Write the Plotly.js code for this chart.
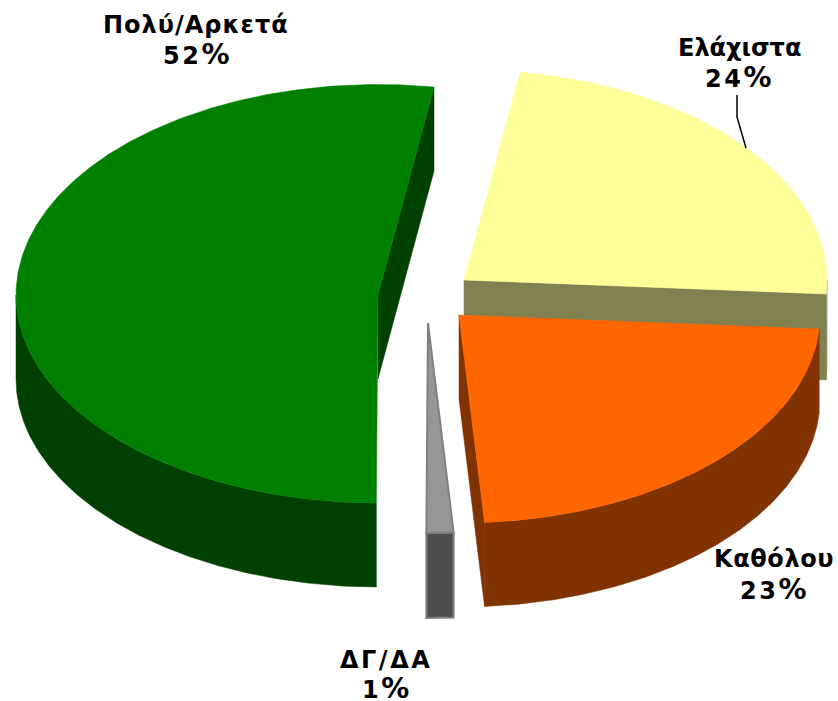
<!DOCTYPE html>
<html><head><meta charset="utf-8">
<script src="https://cdn.plot.ly/plotly-3.0.1.min.js"></script>
<style>html,body{margin:0;padding:0;background:#fff}#c{width:838px;height:701px}</style>
</head><body><div id="c"></div>
<script>
// Data (clockwise from the first slice)
const categories = ['Ελάχιστα', 'Καθόλου', 'ΔΓ/ΔΑ', 'Πολύ/Αρκετά'];
const values = [23.6, 22.8, 1.2, 52.4];
const percentDigits = ['24', '23', '1', '52'];

// Styling and view geometry
const topColors = ['#FFFF99', '#FF6600', '#969696', '#008000'];
const sideColors = ['#808050', '#803300', '#4D4D4D', '#004000'];
const edgeColors = [null, null, '#808080', null];
const centers = [[464, 280], [459, 315], [428, 323], [378, 295]];
const radiiX = [363, 361, 362, 362];
const radiiBack = [210.5, 208, 208, 210.5];
const radiiFront = [208, 208, 210, 208];
const depth = [86, 84, 85, 84];
const namePos = [[739, 48], [774, 559], [386, 660], [196, 25]];
const pctPos = [[739, 77], [774, 589], [387, 688], [197, 54]];
const nameSpacing = [0, 0.6, 2.5, 1];
const startAngle = 8.9;
const drawOrder = [0, 1, 3, 2];

const total = values.reduce((a, b) => a + b, 0);
let acc = startAngle;
const spans = values.map(v => { const s = [acc, acc + v / total * 360]; acc = s[1]; return s; });

const pt = (i, deg) => {
  const r = deg * Math.PI / 180, cs = Math.cos(r);
  return [centers[i][0] + radiiX[i] * Math.sin(r),
          centers[i][1] - (cs > 0 ? radiiBack[i] : radiiFront[i]) * cs];
};
const arc = (i, a0, a1) => {
  const n = Math.max(2, Math.ceil(Math.abs(a1 - a0) / 0.5)), out = [];
  for (let k = 0; k <= n; k++) out.push(pt(i, a0 + (a1 - a0) * k / n));
  return out;
};
const poly = (pts, fill, line) => ({
  type: 'scatter', mode: 'lines', x: pts.map(p => p[0]), y: pts.map(p => p[1]),
  fill: 'toself', fillcolor: fill, hoverinfo: 'skip', showlegend: false,
  line: line ? {color: line, width: 2} : {color: fill, width: 0.5}
});
const drop = (pts, d) => pts.map(p => [p[0], p[1] + d]);

const traces = [];
drawOrder.forEach(i => {
  const [a0, a1] = spans[i], c = centers[i], d = depth[i];
  // flat cut face on the clockwise end of the slice (the gray one shows none)
  if (i !== 2) {
    const e = pt(i, a1);
    traces.push(poly([c, e, [e[0], e[1] + d], [c[0], c[1] + d], c], sideColors[i], edgeColors[i]));
  }
  // outer wall: only the front half of the rim
  const lo = Math.max(a0, 90), hi = Math.min(a1, 270);
  if (hi > lo) {
    const rim = arc(i, lo, hi);
    traces.push(poly(rim.concat(drop(rim, d).reverse(), [rim[0]]), sideColors[i], edgeColors[i]));
  }
  // top face
  traces.push(poly([c].concat(arc(i, a0, a1), [c]), topColors[i], edgeColors[i]));
});

// Leader line for the yellow slice
traces.push({
  type: 'scatter', mode: 'lines', x: [737, 737, 746], y: [95, 117, 148],
  line: {color: '#000', width: 1.5}, hoverinfo: 'skip', showlegend: false
});

const labelFont = {family: '"DejaVu Sans", Verdana, sans-serif', size: 24, color: '#000', weight: 700};
const annotations = [];
categories.forEach((c, i) => {
  annotations.push({
    x: namePos[i][0], y: namePos[i][1], xref: 'x', yref: 'y', showarrow: false,
    text: '<span style="letter-spacing:' + nameSpacing[i] + 'px">' + c + '</span>',
    xanchor: 'center', yanchor: 'middle', font: labelFont
  });
  annotations.push({
    x: pctPos[i][0], y: pctPos[i][1], xref: 'x', yref: 'y', showarrow: false,
    text: '<span style="letter-spacing:2.5px">' + percentDigits[i] +
          '<span style="font-size:28px">%</span></span>',
    xanchor: 'center', yanchor: 'middle', font: labelFont
  });
});

Plotly.newPlot('c', traces, {
  width: 838, height: 701, margin: {l: 0, r: 0, t: 0, b: 0},
  paper_bgcolor: '#fff', plot_bgcolor: '#fff', showlegend: false,
  xaxis: {range: [0, 838], visible: false, fixedrange: true},
  yaxis: {range: [701, 0], visible: false, fixedrange: true},
  annotations
}, {displayModeBar: false, staticPlot: true});
</script></body></html>
